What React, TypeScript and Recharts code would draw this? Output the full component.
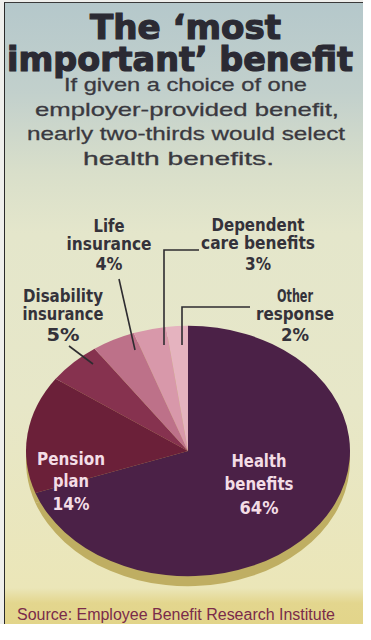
import { PieChart, Pie, Cell } from 'recharts';

// survey shares, percent of respondents
const categories = [
  'Health benefits',
  'Pension plan',
  'Disability insurance',
  'Life insurance',
  'Dependent care benefits',
  'Other response',
];
const shares = [64, 14, 5, 4, 3, 2];
const labelLines = [
  ['Health', 'benefits'],
  ['Pension', 'plan'],
  ['Disability', 'insurance'],
  ['Life', 'insurance'],
  ['Dependent', 'care benefits'],
  ['Other', 'response'],
];

const sliceColors = ['#4b2147', '#6b2039', '#86324f', '#bd7189', '#d898aa', '#e5b3bf'];

// label placement: center x, baselines, fitted widths
const labelLayout = [
  { x: 267, ys: [475, 498, 522], ws: [55, 69, 39], fill: '#f3dde6' },
  { x: 79, ys: [473, 495, 518], ws: [68, 36, 37], fill: '#f3dde6' },
  { x: 71, ys: [310, 328, 349], ws: [80, 81, 33], fill: '#34323a' },
  { x: 117, ys: [240, 258, 278], ws: [31, 85, 27], fill: '#34323a' },
  { x: 266, ys: [239, 257, 278], ws: [93, 114, 26], fill: '#34323a' },
  { x: 303, ys: [310, 328, 349], ws: [36, 78, 28], fill: '#34323a' },
];

const subtitle = [
  'If given a choice of one',
  'employer-provided benefit,',
  'nearly two-thirds would select',
  'health benefits.',
];
const subtitleSpans = [
  [72, 243],
  [43, 304],
  [35, 318],
  [91, 191],
];

const PIE_CX = 196;
const PIE_CY = 459;
const RX = 163;
const RY = 126;

const labelFont = "'Liberation Sans Narrow', 'DejaVu Sans Condensed', 'Roboto', sans-serif";

const App = () => {
  const data = categories.map((name, i) => ({ name, value: shares[i] }));

  const pieBox = (dy: number) => ({
    position: 'absolute' as const,
    left: PIE_CX - RX,
    top: PIE_CY - RX + dy,
    width: RX * 2,
    height: RX * 2,
    transform: `scaleY(${RY / RX})`,
    transformOrigin: 'center',
  });

  return (
    <div
      style={{
        position: 'relative',
        width: 371,
        height: 640,
        margin: -8,
        overflow: 'hidden',
        background: '#efefec',
      }}
    >
      <style>{`body{margin:0}`}</style>
      {/* card background */}
      <div
        style={{
          position: 'absolute',
          left: 12,
          top: 10,
          width: 359,
          height: 630,
          borderLeft: '1.5px solid #2a2a2a',
          borderTop: '1.5px solid #3a3a3a',
          background:
            'linear-gradient(180deg, #b5c8cb 0px, #c2d0cc 90px, #d9dfca 170px, #e4e6cb 230px, #e7e7c8 400px, #ebe6b8 585px, #e3d68e 600px, #e2d488 630px)',
        }}
      />

      {/* pie depth rim */}
      <div style={pieBox(10)}>
        <PieChart width={RX * 2} height={RX * 2} margin={{ top: 0, right: 0, bottom: 0, left: 0 }}>
          <Pie
            data={data}
            dataKey="value"
            cx="50%"
            cy="50%"
            outerRadius={RX - 1}
            startAngle={90}
            endAngle={-270}
            stroke="none"
            isAnimationActive={false}
          >
            {data.map((d) => (
              <Cell key={d.name} fill="#bfae62" />
            ))}
          </Pie>
        </PieChart>
      </div>

      {/* pie */}
      <div style={pieBox(0)}>
        <PieChart width={RX * 2} height={RX * 2} margin={{ top: 0, right: 0, bottom: 0, left: 0 }}>
          <Pie
            data={data}
            dataKey="value"
            cx="50%"
            cy="50%"
            outerRadius={RX - 1}
            startAngle={90}
            endAngle={-270}
            stroke="none"
            isAnimationActive={false}
          >
            {data.map((d, i) => (
              <Cell key={d.name} fill={sliceColors[i]} />
            ))}
          </Pie>
        </PieChart>
      </div>

      {/* text and leader lines */}
      <svg
        width={371}
        height={640}
        style={{ position: 'absolute', left: 0, top: 0, pointerEvents: 'none' }}
      >
        <g
          fontFamily="'DejaVu Sans', sans-serif"
          fontWeight="bold"
          fill="#2b2a33"
          stroke="#2b2a33"
          strokeWidth={1.2}
        >
          <text x={98} y={47} fontSize={33} textLength={191} lengthAdjust="spacingAndGlyphs">
            The ‘most
          </text>
          <text x={15} y={79} fontSize={33} textLength={346} lengthAdjust="spacingAndGlyphs">
            important’ benefit
          </text>
        </g>

        <g
          fontFamily="'Liberation Sans', Arial, sans-serif"
          fontSize={19}
          fill="#3a3940"
          stroke="#3a3940"
          strokeWidth={0.3}
        >
          {subtitle.map((line, i) => (
            <text
              key={line}
              x={subtitleSpans[i][0]}
              y={99 + i * 24.5}
              textLength={subtitleSpans[i][1]}
              lengthAdjust="spacingAndGlyphs"
            >
              {line}
            </text>
          ))}
        </g>

        <g stroke="#2e2c30" strokeWidth={1.6} fill="none">
          <line x1={127} y1={287} x2={143} y2={358} />
          <polyline points="207,258 172,258 172,353" />
          <polyline points="258,315 190,315 190,353" />
          <line x1={77} y1={354} x2={101} y2={372} />
        </g>

        <g fontFamily={labelFont} fontWeight="bold" fontSize={18}>
          {labelLayout.map((l, i) => {
            const lines = [...labelLines[i], `${shares[i]}%`];
            return lines.map((txt, j) => (
              <text
                key={`${i}-${j}`}
                x={l.x - l.ws[j] / 2}
                y={l.ys[j]}
                fill={l.fill}
                textLength={l.ws[j]}
                lengthAdjust="spacingAndGlyphs"
              >
                {txt}
              </text>
            ));
          })}
        </g>

        <text
          x={25}
          y={628}
          fontFamily="'Liberation Sans', Arial, sans-serif"
          fontSize={16}
          fill="#7a2b4a"
          textLength={318}
          lengthAdjust="spacingAndGlyphs"
        >
          Source: Employee Benefit Research Institute
        </text>
      </svg>
    </div>
  );
};

export default App;
